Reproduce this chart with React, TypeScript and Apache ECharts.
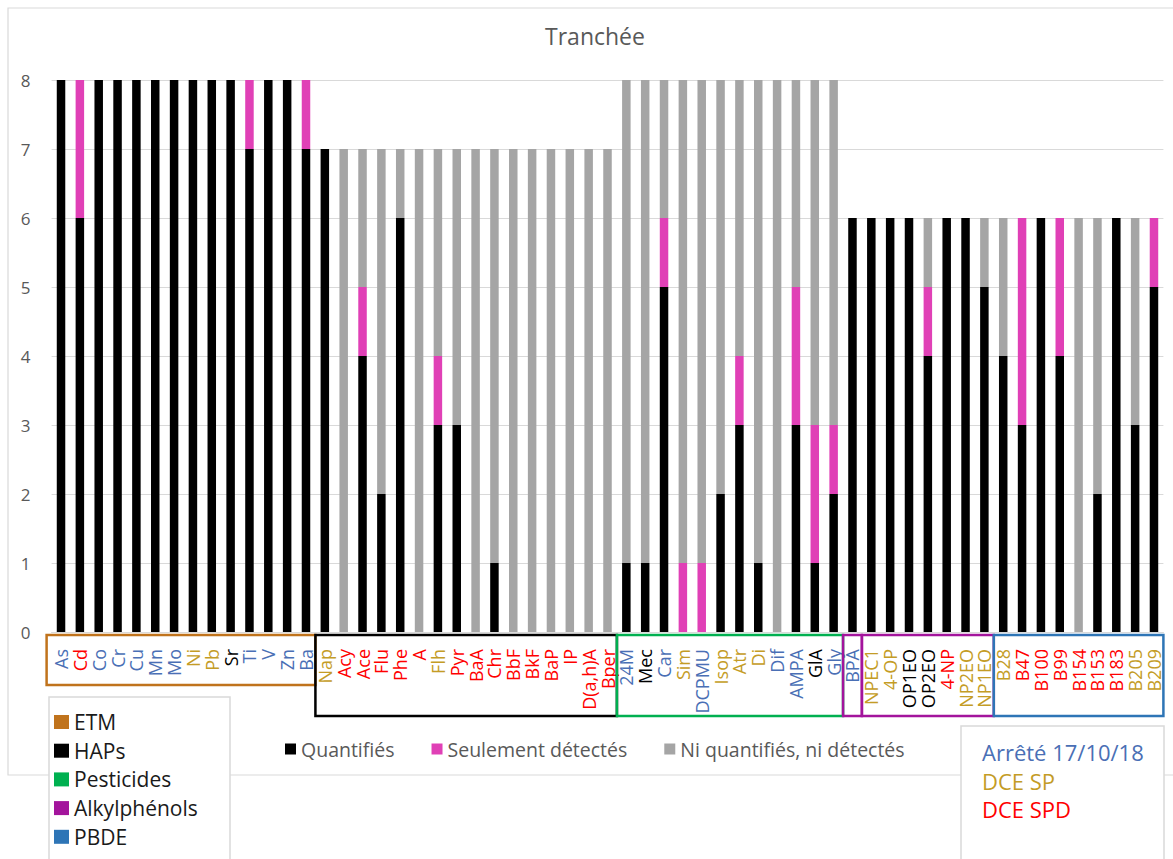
import React, { useEffect, useRef } from "react";
import * as echarts from "echarts";

const categories = [
  "As", "Cd", "Co", "Cr", "Cu", "Mn", "Mo", "Ni", "Pb", "Sr", "Ti", "V", "Zn", "Ba",
  "Nap", "Acy", "Ace", "Flu", "Phe", "A", "Flh", "Pyr", "BaA", "Chr", "BbF", "BkF", "BaP", "IP", "D(a,h)A", "Bper",
  "24M", "Mec", "Car", "Sim", "DCPMU", "Isop", "Atr", "Di", "Dif", "AMPA", "GlA", "Gly",
  "BPA", "NPEC1", "4-OP", "OP1EO", "OP2EO", "4-NP", "NP2EO", "NP1EO",
  "B28", "B47", "B100", "B99", "B154", "B153", "B183", "B205", "B209",
];

// Regulatory list of each substance (drives label colour)
const regulation = [
  "A", "SPD", "A", "A", "A", "A", "A", "SP", "SP", "N", "A", "A", "A", "A",
  "SP", "SPD", "SPD", "SPD", "SPD", "SPD", "SP", "SPD", "SPD", "SPD", "SPD", "SPD", "SPD", "SPD", "SPD", "SPD",
  "A", "N", "A", "SP", "A", "SP", "SP", "SP", "A", "A", "N", "A",
  "A", "SP", "SP", "N", "N", "SPD", "SP", "SP",
  "SP", "SPD", "SPD", "SPD", "SPD", "SPD", "SPD", "SP", "SP",
];

const quantifies = [
  8, 6, 8, 8, 8, 8, 8, 8, 8, 8, 7, 8, 8, 7,
  7, 0, 4, 2, 6, 0, 3, 3, 0, 1, 0, 0, 0, 0, 0, 0,
  1, 1, 5, 0, 0, 2, 3, 1, 0, 3, 1, 2,
  6, 6, 6, 6, 4, 6, 6, 5,
  4, 3, 6, 4, 0, 2, 6, 3, 5,
];

const detectes = [
  0, 2, 0, 0, 0, 0, 0, 0, 0, 0, 1, 0, 0, 1,
  0, 0, 1, 0, 0, 0, 1, 0, 0, 0, 0, 0, 0, 0, 0, 0,
  0, 0, 1, 1, 1, 0, 1, 0, 0, 2, 2, 1,
  0, 0, 0, 0, 1, 0, 0, 0,
  0, 3, 0, 2, 0, 0, 0, 0, 1,
];

const nonDetectes = [
  0, 0, 0, 0, 0, 0, 0, 0, 0, 0, 0, 0, 0, 0,
  0, 7, 2, 5, 1, 7, 3, 4, 7, 6, 7, 7, 7, 7, 7, 7,
  7, 7, 2, 7, 7, 6, 4, 7, 8, 3, 5, 5,
  0, 0, 0, 0, 1, 0, 0, 1,
  2, 0, 0, 0, 6, 4, 0, 3, 0,
];

const yTicks = [0, 1, 2, 3, 4, 5, 6, 7, 8];

const seriesNames = ["Quantifiés", "Seulement détectés", "Ni quantifiés, ni détectés"];

const familyNames = ["ETM", "HAPs", "Pesticides", "Alkylphénols", "PBDE"];
// [first index, last index, family index]
const familyBoxes: [number, number, number][] = [
  [0, 13, 0],
  [14, 29, 1],
  [30, 41, 2],
  [42, 42, 3],
  [43, 49, 3],
  [50, 58, 4],
];

const regulationNames = ["Arrêté 17/10/18", "DCE SP", "DCE SPD"];

const FONT = "'Open Sans', 'Noto Sans', sans-serif";
const BLUE = "#4A6FB5";
const GOLD = "#C49C26";
const RED = "#FF0000";
const regColor: Record<string, string> = { A: BLUE, SP: GOLD, SPD: RED, N: "#000000" };
const familyColors = ["#C0731C", "#000000", "#00B050", "#A3149C", "#2E75B6"];
const barColors = ["#000000", "#E040B6", "#A5A5A5"];

export default function App() {
  const ref = useRef<HTMLDivElement>(null);

  useEffect(() => {
    if (!ref.current) return;
    const chart = echarts.init(ref.current, undefined, { renderer: "svg" });
    const values = [quantifies, detectes, nonDetectes];
    chart.setOption({
      animation: false,
      backgroundColor: "#ffffff",
      textStyle: { fontFamily: FONT },
      title: {
        text: "Tranchée",
        left: 595,
        top: 24,
        textAlign: "center",
        padding: 0,
        textStyle: { fontSize: 23, fontWeight: "normal", color: "#595959", fontFamily: FONT },
      },
      legend: {
        data: seriesNames,
        left: 285,
        top: 739,
        padding: 0,
        icon: "rect",
        itemWidth: 11,
        itemHeight: 11,
        itemGap: 37,
        textStyle: { fontSize: 19.5, color: "#595959", fontFamily: FONT },
      },
      grid: { left: 51.6, right: 9.6, top: 80, bottom: 227, containLabel: false },
      xAxis: {
        type: "category",
        data: categories.map((c, i) => ({
          value: c,
          textStyle: { color: regColor[regulation[i]] },
        })),
        axisLine: { lineStyle: { color: "#D9D9D9" } },
        axisTick: { show: false },
        axisLabel: {
          interval: 0,
          rotate: 90,
          margin: 17,
          fontSize: 18,
          fontFamily: FONT,
          hideOverlap: false,
        },
      },
      yAxis: {
        type: "value",
        min: yTicks[0],
        max: yTicks[yTicks.length - 1],
        interval: 1,
        axisLine: { show: false },
        axisTick: { show: false },
        splitLine: { lineStyle: { color: "#D9D9D9", width: 1 } },
        axisLabel: { fontSize: 17, color: "#595959", margin: 21, fontFamily: FONT },
      },
      series: seriesNames.map((name, k) => ({
        name,
        type: "bar",
        stack: "total",
        barWidth: 8.5,
        data: values[k],
        itemStyle: { color: barColors[k] },
        emphasis: { disabled: true },
      })),
    });

    const cx = (i: number) => chart.convertToPixel({ xAxisIndex: 0 }, i) as number;
    const step = cx(1) - cx(0);
    const y0 = chart.convertToPixel({ yAxisIndex: 0 }, 0) as number;

    const graphics: any[] = [];
    // Outer chart border
    graphics.push({
      type: "rect",
      z: -10,
      silent: true,
      shape: { x: 8, y: 8, width: 1180, height: 767 },
      style: { fill: "none", stroke: "#D9D9D9", lineWidth: 1.2 },
    });
    // Family boxes around axis labels
    familyBoxes.forEach(([a, b, f], idx) => {
      const x1 = cx(a) - step / 2 - (idx === 0 ? 5 : 0);
      const x2 = cx(b) + step / 2;
      const top = y0 + 3;
      const bottom = f === 0 ? y0 + 53 : y0 + 84;
      graphics.push({
        type: "rect",
        z: 50,
        silent: true,
        shape: { x: x1, y: top, width: x2 - x1, height: bottom - top },
        style: { fill: "none", stroke: familyColors[f], lineWidth: 2.5 },
      });
    });
    // Family legend box
    const famChildren: any[] = [
      {
        type: "rect",
        shape: { x: 0, y: 0, width: 181, height: 200 },
        style: { fill: "#ffffff", stroke: "#D9D9D9", lineWidth: 1.5 },
      },
    ];
    familyNames.forEach((n, i) => {
      const cy = 25 + i * 28.7;
      famChildren.push({
        type: "rect",
        shape: { x: 5, y: cy - 7, width: 15, height: 14 },
        style: { fill: familyColors[i] },
      });
      famChildren.push({
        type: "text",
        x: 25,
        y: cy,
        style: {
          text: n,
          fill: "#1A1A1A",
          font: `21px ${FONT}`,
          textVerticalAlign: "middle",
          verticalAlign: "middle",
        },
      });
    });
    graphics.push({ type: "group", x: 49, y: 697, z: 100, silent: true, children: famChildren });

    // Regulation legend box
    const regChildren: any[] = [
      {
        type: "rect",
        shape: { x: 0, y: 0, width: 203, height: 200 },
        style: { fill: "#ffffff", stroke: "#D9D9D9", lineWidth: 1.5 },
      },
    ];
    const regCols = [BLUE, GOLD, RED];
    regulationNames.forEach((n, i) => {
      regChildren.push({
        type: "text",
        x: 21,
        y: 26 + i * 28.5,
        style: {
          text: n,
          fill: regCols[i],
          font: `22px ${FONT}`,
          textVerticalAlign: "middle",
          verticalAlign: "middle",
        },
      });
    });
    graphics.push({ type: "group", x: 961, y: 726, z: 100, silent: true, children: regChildren });

    chart.setOption({ graphic: graphics });

    return () => chart.dispose();
  }, []);

  return (
    <div
      ref={ref}
      style={{ position: "absolute", left: 0, top: 0, width: 1173, height: 859, background: "#fff" }}
    />
  );
}
